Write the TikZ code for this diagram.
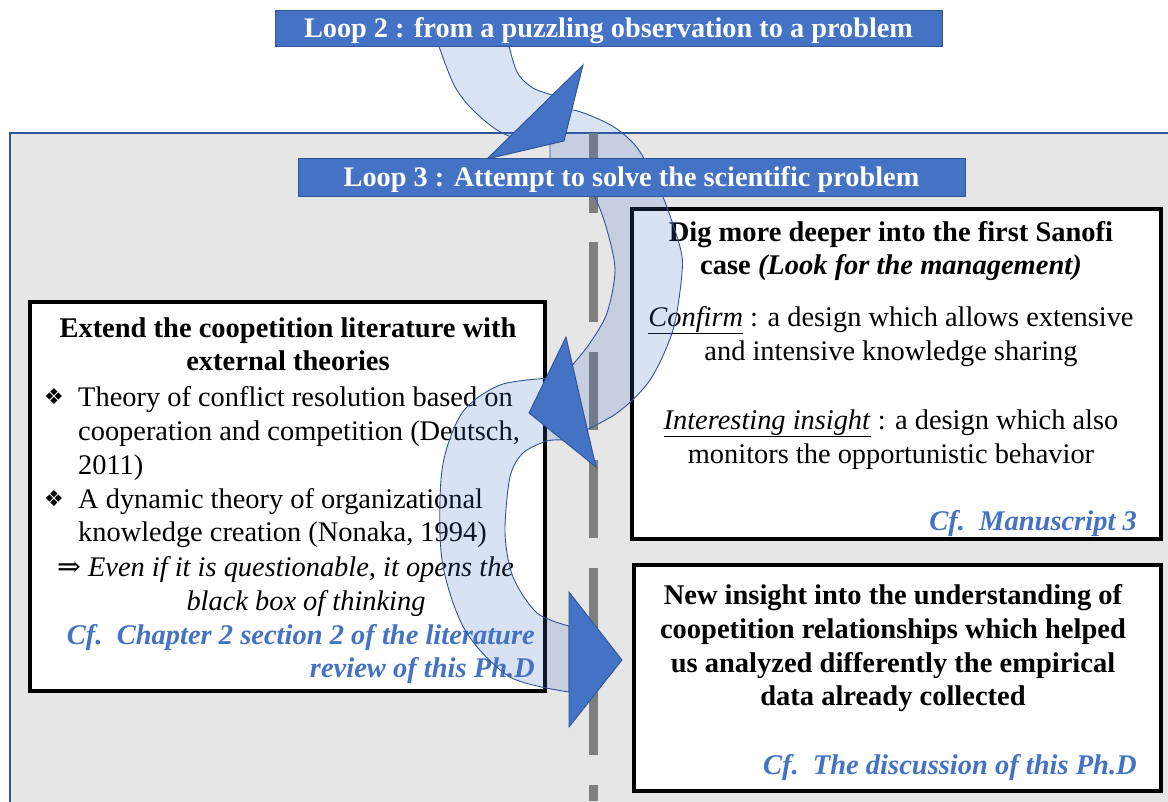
\documentclass[tikz,border=0pt]{standalone}
\usepackage{fontspec}
\setmainfont{Liberation Serif}
\newfontfamily\dingfont{DejaVu Sans}
\newfontfamily\arrowfont{DejaVu Serif}
\usepackage{tikz}
\definecolor{LoopBlue}{HTML}{4472C4}
\definecolor{LoopEdge}{HTML}{2F5597}
\definecolor{PanelGray}{HTML}{E7E6E6}
\definecolor{DashGray}{HTML}{7F7F7F}
\newcommand{\txt}{\fontsize{28.4}{34}\selectfont}
\newcommand{\txtb}{\fontsize{28.5}{34}\selectfont\bfseries}

\begin{document}
\begin{tikzpicture}[x=1pt,y=-1pt,
  every node/.style={inner sep=0pt,font=\txt},
  banner/.style={fill=LoopBlue,draw=LoopEdge,line width=1pt,text=white,text height=23pt,text depth=4pt,font=\fontsize{28.3}{30}\selectfont\bfseries},
  panel/.style={draw=black,line width=4pt,fill=white},
  band/.style={fill=LoopBlue,fill opacity=0.2,draw=LoopEdge,line width=0.9pt},
  head/.style={fill=LoopBlue,draw=LoopEdge,line width=0.9pt},
  bullet/.style={anchor=center,font=\dingfont\fontsize{22}{22}\selectfont},
  cf/.style={anchor=base east,text=LoopBlue,font=\txtb\itshape}]
  \useasboundingbox (0,0) rectangle (1168,801);
  % grey panel and dashed divider
  \filldraw[fill=PanelGray,draw=LoopEdge,line width=1.2pt] (10,133) rectangle (1185,820);
  \foreach \a/\b in {133/213,242/322,352/430,460/538,568/755,785/801}
    \draw[DashGray,line width=9pt] (593,\a) -- (593,\b);

  % the three boxes
  \node[panel,minimum width=515pt,minimum height=389pt] (lit) at (287.5,496.5) {};
  \node[panel,minimum width=529pt,minimum height=330pt] (sanofi) at (896.5,374) {};
  \node[panel,minimum width=527pt,minimum height=226pt] (insight) at (897.5,678) {};

  % literature box
  \foreach \y/\t [count=\i] in {337/{Extend the coopetition literature with},370/{external theories}}
    \node[font=\txtb,anchor=base] (lith\i) at (288,\y) {\t};
  \node[bullet] (litb1) at (54,397) {❖};
  \foreach \y/\t [count=\i] in {406/{Theory of conflict resolution based on},440/{cooperation and competition (Deutsch,},474/{2011)}}
    \node[anchor=base west] (lita\i) at (78,\y) {\t};
  \node[bullet] (litb2) at (54,499) {❖};
  \foreach \y/\t [count=\i] in {508/{A dynamic theory of organizational},541/{knowledge creation (Nonaka, 1994)}}
    \node[anchor=base west] (litc\i) at (78,\y) {\t};
  \node[anchor=base west] (litd1) at (57,576) {{\arrowfont\mdseries ⇒} \textit{Even if it is questionable, it opens the}};
  \node[anchor=base] (litd2) at (306,610) {\textit{black box of thinking}};
  \node[cf] (litcf1) at (535,644) {Cf.\enspace Chapter 2 section 2 of the literature};
  \node[cf] (litcf2) at (535,677) {review of this Ph.D};

  % Sanofi box
  \node[font=\txtb,anchor=base] (sanh1) at (891,241) {Dig more deeper into the first Sanofi};
  \node[font=\txtb,anchor=base] (sanh2) at (891,274) {case \textit{(Look for the management)}};
  \node[anchor=base] (san1) at (891,326) {\underline{\textit{Confirm}} : a design which allows extensive};
  \node[anchor=base] (san2) at (891,360) {and intensive knowledge sharing};
  \node[anchor=base] (san3) at (891,429) {\underline{\textit{Interesting insight}} : a design which also};
  \node[anchor=base] (san4) at (891,463) {monitors the opportunistic behavior};
  \node[cf] (sancf) at (1137,530) {Cf.\enspace Manuscript 3};

  % insight box
  \foreach \y/\t [count=\i] in {604/{New insight into the understanding of},638/{coopetition relationships which helped},672/{us analyzed differently the empirical},705/{data already collected}}
    \node[font=\txtb,anchor=base] (ins\i) at (893,\y) {\t};
  \node[cf] (inscf) at (1137,774) {Cf.\enspace The discussion of this Ph.D};

  % curved arrows
  \filldraw[band] plot[smooth] coordinates {(436,38) (453,83) (470,107) (497,130) (532,146)}
    -- plot[smooth] coordinates {(556,96) (533,88) (517,72) (507,38)} -- cycle;
  \filldraw[band] plot[smooth] coordinates {(550,116) (573,110) (607,123) (627,137) (642,155) (663,197) (680,247) (682,273) (673,330) (650,380) (617,413) (572,437)}
    -- plot[smooth] coordinates {(570,368) (590,343) (607,313) (615,270) (607,230) (596,200) (580,178)} -- (550,165) -- cycle;
  \filldraw[band] plot[smooth] coordinates {(551,378) (500,385) (462,413) (442,470) (442,560) (465,630) (510,677) (569,692)}
    -- plot[smooth] coordinates {(569,626) (537,613) (513,577) (505,533) (510,477) (523,453) (547,441) (566,440)} -- cycle;
  \filldraw[head] (583,65) -- (487,159) -- (564,141) -- cycle;
  \filldraw[head] (566,337) -- (529,413) -- (596,467) -- cycle;
  \filldraw[head] (569,592) -- (622,660) -- (569,727) -- cycle;

  % loop banners
  \node[banner,minimum width=667pt,minimum height=36pt] (loop2) at (608.5,28) {Loop 2 : from a puzzling observation to a problem};
  \node[banner,minimum width=667pt,minimum height=38pt] (loop3) at (631.5,177) {Loop 3 : Attempt to solve the scientific problem};
\end{tikzpicture}
\end{document}
